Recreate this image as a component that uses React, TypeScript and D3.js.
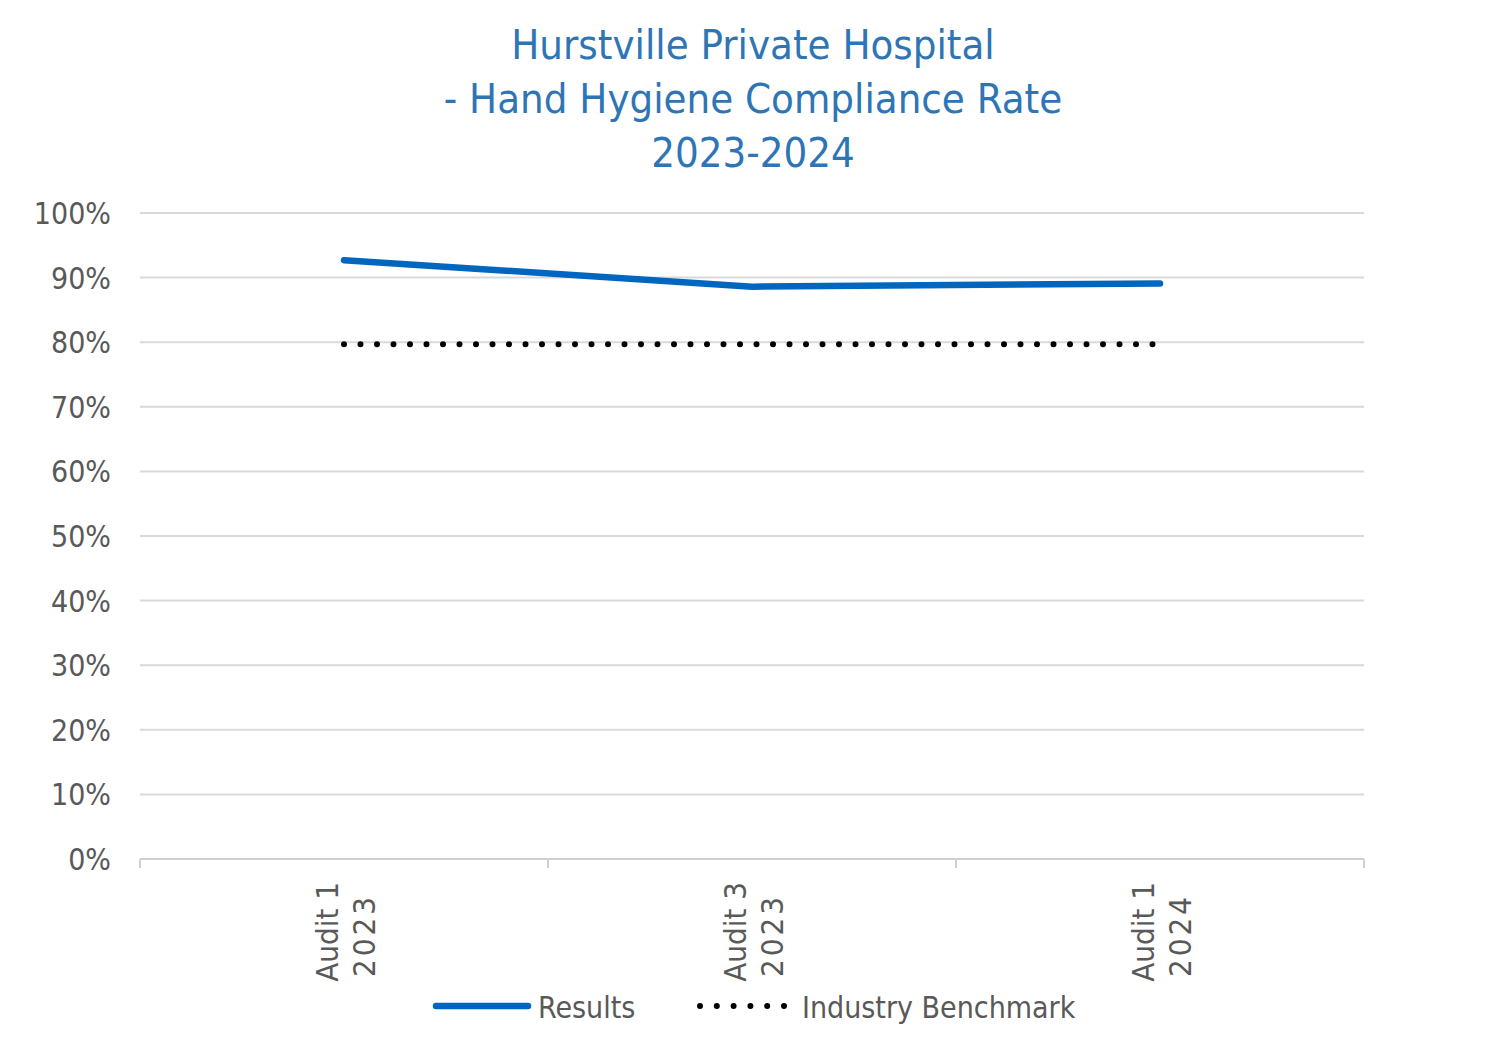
import React from "react";
import * as d3 from "d3";

const categories = [["Audit 1", "2023"], ["Audit 3", "2023"], ["Audit 1", "2024"]];
const results = [0.927, 0.886, 0.891];
const benchmark = [0.8, 0.8, 0.8];
const yTicks = [0, 0.1, 0.2, 0.3, 0.4, 0.5, 0.6, 0.7, 0.8, 0.9, 1.0];
const titleLines = ["Hurstville Private Hospital", "- Hand Hygiene Compliance Rate", "2023-2024"];

const W = 1500, H = 1049;
const left = 140, right = 1364, top = 213, bottom = 859;
const FONT = "'Liberation Sans Narrow', 'DejaVu Sans Condensed', 'Open Sans', sans-serif";

export default function App() {
  const x = d3.scaleBand<number>().domain(d3.range(categories.length)).range([left, right]);
  const y = d3.scaleLinear().domain([0, 1]).range([bottom, top]);
  const cx = (i: number) => (x(i) as number) + x.bandwidth() / 2;
  const line = d3.line<number>().x((_, i) => cx(i)).y((d) => y(d));
  const fmt = d3.format(".0%");
  const tickXs = d3.range(categories.length + 1).map((i) => left + i * x.bandwidth());

  return (
    <svg width={W} height={H} style={{ position: "absolute", left: 0, top: 0, background: "#fff" }}>
      <g fontFamily={FONT}>
        {titleLines.map((t, i) => (
          <text key={i} x={753} y={59 + i * 54} textAnchor="middle" fontSize={41.5} fill="#2e75b6">{t}</text>
        ))}
        {yTicks.map((v) => (
          <g key={v}>
            {v > 0 && <line x1={left} x2={right} y1={y(v)} y2={y(v)} stroke="#d9d9d9" strokeWidth={2} />}
            <text x={111} y={y(v) + 11} textAnchor="end" fontSize={30} fill="#595959">{fmt(v)}</text>
          </g>
        ))}
        <line x1={left} x2={right} y1={bottom} y2={bottom} stroke="#d0d0d0" strokeWidth={2} />
        {tickXs.map((t, i) => (
          <line key={i} x1={t} x2={t} y1={bottom} y2={bottom + 9} stroke="#d0d0d0" strokeWidth={2} />
        ))}
        {categories.map((c, i) => (
          <g key={i} transform={`translate(${cx(i)},${882}) rotate(-90)`}>
            <text x={0} y={-6} textAnchor="end" fontSize={31} fill="#595959">{c[0]}</text>
            <text x={-12} y={31} textAnchor="end" fontSize={31} fill="#595959" letterSpacing={3}>{c[1]}</text>
          </g>
        ))}
        <path d={line(benchmark) || ""} fill="none" stroke="#000" strokeWidth={6} strokeLinecap="round" strokeDasharray="0 16.5" transform="translate(0,2)" />
        <path d={line(results) || ""} fill="none" stroke="#0066bf" strokeWidth={6.5} strokeLinecap="round" />
        <line x1={436} x2={528} y1={1006} y2={1006} stroke="#0066bf" strokeWidth={6.5} strokeLinecap="round" />
        <text x={538} y={1018} fontSize={30} fill="#595959">Results</text>
        <line x1={700} x2={785} y1={1006} y2={1006} stroke="#000" strokeWidth={6} strokeLinecap="round" strokeDasharray="0 16.8" />
        <text x={802} y={1018} fontSize={30} fill="#595959">Industry Benchmark</text>
      </g>
    </svg>
  );
}
